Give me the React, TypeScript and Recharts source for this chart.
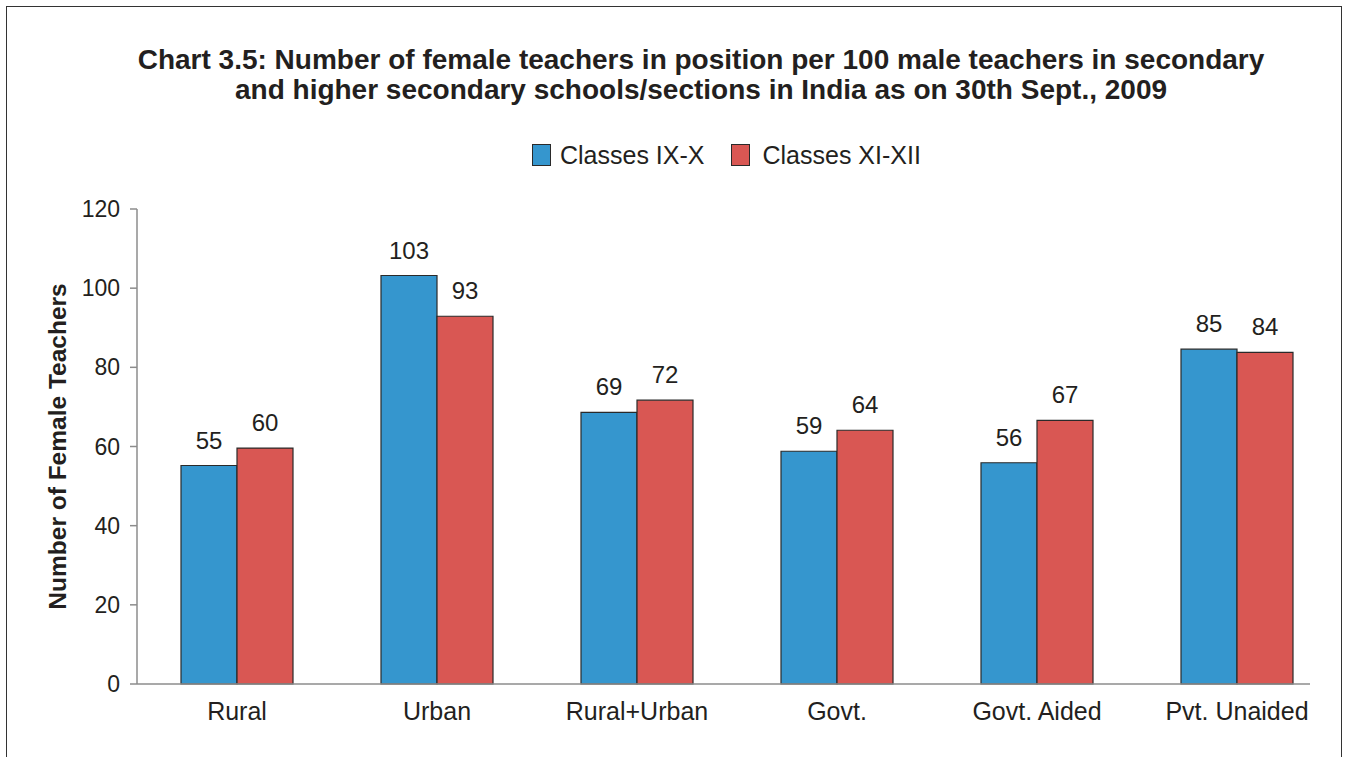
import React from 'react';
import { BarChart, Bar, XAxis, YAxis, Legend, LabelList, Label } from 'recharts';

const categories = ['Rural', 'Urban', 'Rural+Urban', 'Govt.', 'Govt. Aided', 'Pvt. Unaided'];
const classesIXX = [55.2, 103.2, 68.6, 58.8, 55.9, 84.6];
const classesXIXII = [59.6, 92.9, 71.7, 64.1, 66.6, 83.8];
const yTicks = [0, 20, 40, 60, 80, 100, 120];
const boundaryTicks = [0, 1, 2, 3, 4, 5];

const seriesNames = { ix: 'Classes IX-X', xi: 'Classes XI-XII' };

const data = categories.map((c, i) => ({ category: c, ix: classesIXX[i], xi: classesXIXII[i] }));

const FONT = '"Liberation Sans", Arial, Helvetica, sans-serif';
const TEXT = '#231f20';
const AXIS = '#8c8c8c';
const BLUE = '#3596ce';
const RED = '#d95753';

const LegendContent = (props: any) => {
  const items = props.payload || [];
  return (
    <div style={{ display: 'flex', alignItems: 'center', paddingLeft: 532, fontFamily: FONT, fontSize: 25, color: TEXT }}>
      {items.map((it: any, i: number) => (
        <div key={i} style={{ display: 'flex', alignItems: 'center', marginRight: 27 }}>
          <div style={{ width: 19, height: 22, boxSizing: 'border-box', background: it.color, border: '1.5px solid #2a2a2a', marginRight: i === 0 ? 9 : 12 }} />
          <span style={{ lineHeight: '24px' }}>{it.value}</span>
        </div>
      ))}
    </div>
  );
};

export default function App() {
  return (
    <div style={{ position: 'absolute', left: 0, top: 0, width: 1349, height: 757, overflow: 'hidden', background: '#fff' }}>
      <div style={{ position: 'absolute', left: 6, top: 6, width: 1336, height: 820, border: '1.5px solid #333', boxSizing: 'border-box' }} />
      <div style={{ position: 'absolute', left: 1, top: 45, width: 1400, textAlign: 'center', whiteSpace: 'nowrap', fontFamily: FONT, fontWeight: 'bold', fontSize: 28, lineHeight: '30px', color: TEXT }}>
        Chart 3.5: Number of female teachers in position per 100 male teachers in secondary<br />
        and higher secondary schools/sections in India as on 30th Sept., 2009
      </div>
      <div style={{ position: 'absolute', left: 0, top: 0 }}>
        <BarChart width={1349} height={757} data={data} margin={{ top: 209, right: 39, bottom: 23, left: 0 }} barGap={0} barSize={56}>
          <XAxis
            xAxisId="bnd"
            type="number"
            domain={[0, 6]}
            ticks={boundaryTicks}
            height={0}
            axisLine={false}
            tickLine={{ stroke: AXIS, strokeWidth: 1.5 }}
            tickSize={8}
            tickFormatter={() => ''}
            padding={{ left: 0, right: -27 }}
            allowDataOverflow
          />
          <XAxis
            xAxisId="cat"
            dataKey="category"
            height={50}
            interval={0}
            axisLine={{ stroke: AXIS, strokeWidth: 1.5 }}
            tickLine={false}
            tickSize={0}
            tickMargin={18}
            padding={{ left: 0, right: -27 }}
            tick={{ fontFamily: FONT, fontSize: 25, fill: TEXT }}
          />
          <YAxis
            domain={[0, 120]}
            ticks={yTicks}
            width={137}
            axisLine={{ stroke: AXIS, strokeWidth: 1.5 }}
            tickLine={{ stroke: AXIS, strokeWidth: 1.5 }}
            tickSize={7}
            tickMargin={10}
            tick={{ fontFamily: FONT, fontSize: 23, fill: TEXT }}
          >
            <Label
              value="Number of Female Teachers"
              angle={-90}
              position="center"
              dx={-11}
              style={{ fontFamily: FONT, fontSize: 24.5, fontWeight: 'bold', fill: TEXT }}
            />
          </YAxis>
          <Legend
            layout="horizontal"
            verticalAlign="middle"
            align="center"
            wrapperStyle={{ top: 143, left: 0, width: 1349 }}
            content={<LegendContent />}
          />
          <Bar xAxisId="cat" dataKey="ix" name={seriesNames.ix} fill={BLUE} stroke="#2a2a2a" strokeWidth={1.2} isAnimationActive={false}>
            <LabelList dataKey="ix" position="top" offset={17} formatter={(v: any) => Math.round(v)} style={{ fontFamily: FONT, fontSize: 24, fill: TEXT }} />
          </Bar>
          <Bar xAxisId="cat" dataKey="xi" name={seriesNames.xi} fill={RED} stroke="#2a2a2a" strokeWidth={1.2} isAnimationActive={false}>
            <LabelList dataKey="xi" position="top" offset={17} formatter={(v: any) => Math.round(v)} style={{ fontFamily: FONT, fontSize: 24, fill: TEXT }} />
          </Bar>
        </BarChart>
      </div>
    </div>
  );
}
